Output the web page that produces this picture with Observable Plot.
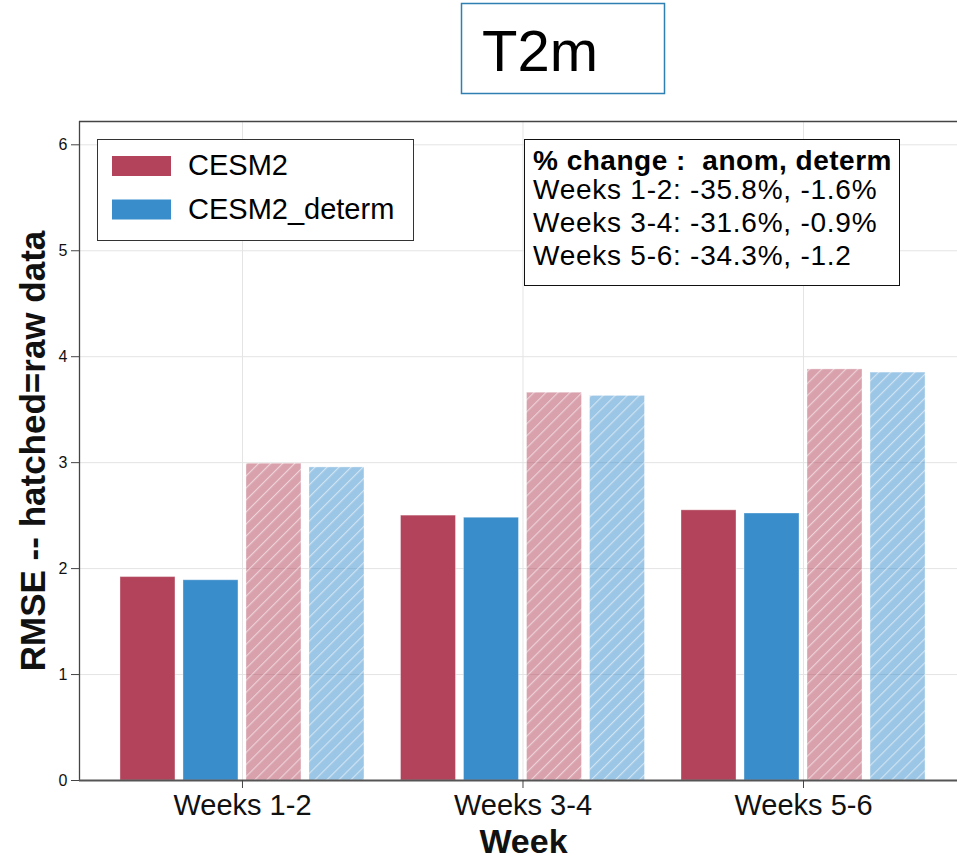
<!DOCTYPE html>
<html>
<head>
<meta charset="utf-8">
<script src="https://cdn.jsdelivr.net/npm/d3@7"></script>
<script src="https://cdn.jsdelivr.net/npm/@observablehq/plot@0.6"></script>
<style>
  body { margin: 0; background: #fff; }
  #chart svg { display: block; }
</style>
</head>
<body>
<div id="chart"></div>
<script>
// RMSE of 2 m temperature by forecast lead, anomalies (solid) vs raw data (hatched)
const weeks = ["Weeks 1-2", "Weeks 3-4", "Weeks 5-6"];
const series = ["CESM2", "CESM2_determ"];
const cesm2Anom = [1.92, 2.50, 2.55];
const determAnom = [1.89, 2.48, 2.52];
const cesm2Raw = [2.99, 3.66, 3.88];
const determRaw = [2.955, 3.63, 3.85];
const anomChange = ["-35.8%", "-31.6%", "-34.3%"];
const determChange = ["-1.6%", "-0.9%", "-1.2"];
const yTicks = [0, 1, 2, 3, 4, 5, 6];
const yMax = 6.22;

const colors = {CESM2: "#b2435a", CESM2_determ: "#3a8dcb"};
const font = "'Liberation Sans', Arial, Helvetica, sans-serif";

// x is measured in week-group units; each group holds four bars
const xMin = -0.581, xMax = 2.549;
const barStep = 0.2246, barHalf = 0.098;
const slots = [-1.5, -0.5, 0.5, 1.5].map(k => k * barStep);
const bars = (values, slot) => values.map((v, i) => ({
  week: weeks[i],
  x1: i + slots[slot] - barHalf,
  x2: i + slots[slot] + barHalf,
  value: v
}));

const plot = Plot.plot({
  width: 957,
  height: 859,
  marginLeft: 79,
  marginRight: 0,
  marginTop: 121,
  marginBottom: 79,
  style: {fontFamily: font, color: "#111", background: "white"},
  x: {domain: [xMin, xMax]},
  y: {domain: [0, yMax]},
  marks: [
    Plot.ruleY(yTicks.slice(1), {stroke: "#e4e4e4", strokeWidth: 1}),
    Plot.ruleX([0, 1, 2], {stroke: "#e4e4e4", strokeWidth: 1}),
    Plot.rect(bars(cesm2Anom, 0), {x1: "x1", x2: "x2", y1: 0, y2: "value", fill: colors.CESM2, stroke: "#fff", strokeOpacity: 0.35}),
    Plot.rect(bars(determAnom, 1), {x1: "x1", x2: "x2", y1: 0, y2: "value", fill: colors.CESM2_determ, stroke: "#fff", strokeOpacity: 0.35}),
    Plot.rect(bars(cesm2Raw, 2), {x1: "x1", x2: "x2", y1: 0, y2: "value", fill: "url(#hatch-cesm2)", stroke: "#fff", strokeOpacity: 0.35}),
    Plot.rect(bars(determRaw, 3), {x1: "x1", x2: "x2", y1: 0, y2: "value", fill: "url(#hatch-determ)", stroke: "#fff", strokeOpacity: 0.35}),
    Plot.ruleY([yMax], {stroke: "#444", strokeWidth: 1.3}),
    Plot.ruleX([xMin], {y1: 0, y2: yMax, stroke: "#444", strokeWidth: 1.3}),
    Plot.ruleY([0], {stroke: "#555", strokeWidth: 2}),
    Plot.axisY({ticks: yTicks, tickFormat: d3.format("d"), tickSize: 8, tickPadding: 4, fontSize: 16, stroke: "#444", label: null}),
    Plot.axisX({ticks: [0, 1, 2], tickFormat: i => weeks[i], tickSize: 8, tickPadding: 6, fontSize: 29, stroke: "#444", label: null}),
    Plot.text(["RMSE -- hatched=raw data"], {text: d => d, frameAnchor: "left", textAnchor: "middle", rotate: -90, dx: -46, fontSize: 35, fontWeight: "bold", fill: "#111"}),
    Plot.text(["Week"], {text: d => d, frameAnchor: "bottom", lineAnchor: "bottom", dx: 5, dy: 72, fontSize: 34, fontWeight: "bold", fill: "#111"})
  ]
});

const svg = d3.select(plot);

// hatch patterns for the raw-data bars
const defs = svg.insert("defs", ":first-child");
[["hatch-cesm2", colors.CESM2], ["hatch-determ", colors.CESM2_determ]].forEach(([id, c]) => {
  const p = defs.append("pattern")
    .attr("id", id)
    .attr("patternUnits", "userSpaceOnUse")
    .attr("width", 8.5).attr("height", 8.5)
    .attr("patternTransform", "rotate(45)");
  p.append("rect").attr("width", 8.5).attr("height", 8.5).attr("fill", c).attr("fill-opacity", 0.5);
  p.append("line").attr("x1", 0.6).attr("y1", 0).attr("x2", 0.6).attr("y2", 8.5)
    .attr("stroke", "#fff").attr("stroke-opacity", 0.55).attr("stroke-width", 1.1);
});

// title box
const title = svg.append("g").attr("font-family", font).attr("text-anchor", "start");
title.append("rect").attr("x", 461.5).attr("y", 3.5).attr("width", 203).attr("height", 90)
  .attr("fill", "white").attr("stroke", "#2f7fb2").attr("stroke-width", 1.5);
title.append("text").attr("x", 482).attr("y", 71).attr("font-size", 58).attr("fill", "#000").text("T2m");

// legend
const legend = svg.append("g").attr("font-family", font).attr("text-anchor", "start");
legend.append("rect").attr("x", 97.5).attr("y", 139.5).attr("width", 316).attr("height", 101)
  .attr("fill", "white").attr("stroke", "#333").attr("stroke-width", 1);
series.forEach((s, i) => {
  legend.append("rect").attr("x", 112).attr("y", 156 + i * 43.5).attr("width", 59).attr("height", 20).attr("fill", colors[s]);
  legend.append("text").attr("x", 188).attr("y", 175 + i * 44).attr("font-size", 29).attr("fill", "#000").text(s);
});

// percent-change box
const note = svg.append("g").attr("font-family", font).attr("fill", "#000").attr("text-anchor", "start");
note.append("rect").attr("x", 524.5).attr("y", 139.5).attr("width", 375).attr("height", 146)
  .attr("fill", "white").attr("stroke", "#111").attr("stroke-width", 1);
note.append("text").attr("x", 533).attr("y", 170).attr("font-size", 28).attr("font-weight", "bold")
  .attr("letter-spacing", 0.5).style("white-space", "pre")
  .text("% change :  anom, determ");
weeks.forEach((w, i) => {
  note.append("text").attr("x", 533).attr("y", 198.5 + i * 33.3).attr("font-size", 28)
    .attr("letter-spacing", 0.75)
    .text(`${w}: ${anomChange[i]}, ${determChange[i]}`);
});

document.getElementById("chart").appendChild(plot);
</script>
</body>
</html>
